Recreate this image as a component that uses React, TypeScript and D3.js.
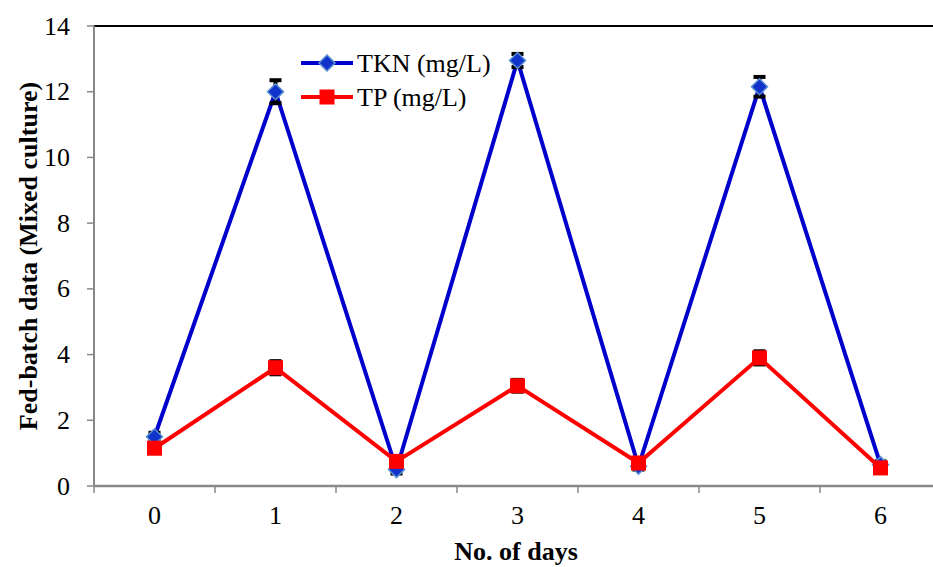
import React from "react";
import * as d3 from "d3";

const days = ["0", "1", "2", "3", "4", "5", "6"];
const tkn = [1.5, 12.0, 0.5, 12.95, 0.6, 12.15, 0.65];
const tknErr = [0.12, 0.35, 0.12, 0.2, 0.1, 0.3, 0.1];
const tp = [1.15, 3.6, 0.75, 3.05, 0.7, 3.9, 0.55];
const tpErr = [0.1, 0.2, 0.1, 0.18, 0.08, 0.2, 0.08];
const yTicks = [0, 2, 4, 6, 8, 10, 12, 14];

const W = 933, H = 567;
const left = 94, top = 26, bottom = 486, right = 941;

export default function App() {
  const x = d3.scaleBand<string>().domain(days).range([left, right]);
  const y = d3.scaleLinear().domain([0, 14]).range([bottom, top]);
  const cx = (d: string) => (x(d) as number) + x.bandwidth() / 2;
  const line = d3.line<number>().x((_, i) => cx(days[i])).y((v) => y(v));
  const axisColor = "#898989";
  const txt: React.CSSProperties = {
    fontFamily: '"Liberation Serif", "DejaVu Serif", serif',
    fontSize: "26px",
  };
  const bold: React.CSSProperties = { ...txt, fontWeight: 700 };

  const errBars = (vals: number[], errs: number[]) =>
    vals.map((v, i) => {
      const px = cx(days[i]);
      const y1 = y(v + errs[i]);
      const y2 = y(v - errs[i]);
      return (
        <g key={i}>
          <line x1={px} x2={px} y1={y1} y2={y2} stroke="#000" strokeWidth={4} />
          <line x1={px - 6} x2={px + 6} y1={y1} y2={y1} stroke="#000" strokeWidth={4} />
          <line x1={px - 6} x2={px + 6} y1={y2} y2={y2} stroke="#000" strokeWidth={4} />
        </g>
      );
    });

  const diamond = (px: number, py: number, s: number, k: any) => (
    <path
      key={k}
      d={`M${px},${py - s} L${px + s},${py} L${px},${py + s} L${px - s},${py} Z`}
      fill="#1133CC"
      stroke="#5B8FD0"
      strokeWidth={1.5}
    />
  );
  const square = (px: number, py: number, s: number, k: any) => (
    <rect key={k} x={px - s} y={py - s} width={2 * s} height={2 * s} fill="#FF0000" />
  );

  return (
    <svg width={W} height={H} style={{ position: "absolute", left: 0, top: 0, background: "#fff" }}>
      <line x1={left} x2={right} y1={top} y2={top} stroke="#000" strokeWidth={2} />
      <line x1={left} x2={left} y1={top} y2={bottom} stroke={axisColor} strokeWidth={2} />
      {yTicks.map((t) => (
        <g key={t}>
          <line x1={left - 7} x2={left} y1={y(t)} y2={y(t)} stroke={axisColor} strokeWidth={1.5} />
          <text x={70} y={y(t)} dy="0.33em" textAnchor="end" style={txt} fill="#000">
            {t}
          </text>
        </g>
      ))}
      <line x1={left} x2={right} y1={bottom} y2={bottom} stroke={axisColor} strokeWidth={2.5} />
      {days.map((d) => (
        <g key={d}>
          <line x1={x(d) as number} x2={x(d) as number} y1={bottom} y2={bottom + 7} stroke={axisColor} strokeWidth={1.5} />
          <text x={cx(d)} y={524} textAnchor="middle" style={txt} fill="#000">
            {d}
          </text>
        </g>
      ))}
      <text x={516} y={560} textAnchor="middle" style={bold} fill="#000">
        No. of days
      </text>
      <text
        transform={`translate(37,${(top + bottom) / 2}) rotate(-90)`}
        textAnchor="middle"
        style={bold}
        fill="#000"
      >
        Fed-batch data (Mixed culture)
      </text>

      <path d={line(tkn) as string} fill="none" stroke="#0000CC" strokeWidth={4} />
      {errBars(tkn, tknErr)}
      {tkn.map((v, i) => diamond(cx(days[i]), y(v), 8, i))}

      <path d={line(tp) as string} fill="none" stroke="#FF0000" strokeWidth={4} />
      {errBars(tp, tpErr)}
      {tp.map((v, i) => square(cx(days[i]), y(v), 7.5, i))}

      <line x1={301} x2={353} y1={63} y2={63} stroke="#0000CC" strokeWidth={4} />
      {diamond(327, 63, 8, "ld")}
      <text x={357} y={63} dy="0.33em" style={txt} fill="#000">
        TKN (mg/L)
      </text>
      <line x1={301} x2={353} y1={97} y2={97} stroke="#FF0000" strokeWidth={4} />
      {square(327, 97, 7.5, "ls")}
      <text x={357} y={97} dy="0.33em" style={txt} fill="#000">
        TP (mg/L)
      </text>
    </svg>
  );
}
